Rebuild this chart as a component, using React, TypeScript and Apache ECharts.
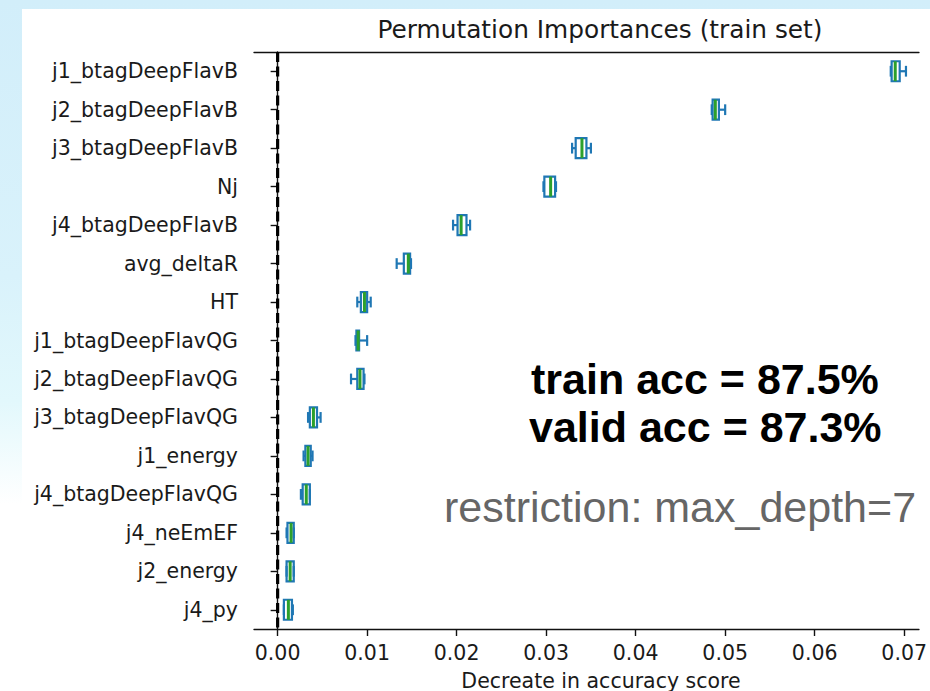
import React, { useEffect, useRef } from "react";
import * as echarts from "echarts";

const categories = [
  "j1_btagDeepFlavB",
  "j2_btagDeepFlavB",
  "j3_btagDeepFlavB",
  "Nj",
  "j4_btagDeepFlavB",
  "avg_deltaR",
  "HT",
  "j1_btagDeepFlavQG",
  "j2_btagDeepFlavQG",
  "j3_btagDeepFlavQG",
  "j1_energy",
  "j4_btagDeepFlavQG",
  "j4_neEmEF",
  "j2_energy",
  "j4_py",
];

const whiskerLow = [0.0685, 0.0485, 0.0329, 0.0297, 0.0196, 0.0133, 0.0089, 0.0087, 0.0082, 0.0034, 0.0029, 0.0026, 0.001, 0.001, 0.0007];
const q1 = [0.0686, 0.0486, 0.0333, 0.0298, 0.0201, 0.0141, 0.0093, 0.0088, 0.0089, 0.0036, 0.0031, 0.0028, 0.0011, 0.001, 0.0007];
const median = [0.069, 0.0489, 0.034, 0.0305, 0.0205, 0.0146, 0.0097, 0.009, 0.0092, 0.004, 0.0034, 0.0032, 0.0015, 0.0014, 0.0012];
const q3 = [0.0695, 0.0493, 0.0345, 0.031, 0.0211, 0.0148, 0.01, 0.0091, 0.0096, 0.0044, 0.0037, 0.0036, 0.0018, 0.0018, 0.0016];
const whiskerHigh = [0.0702, 0.05, 0.035, 0.0311, 0.0215, 0.0149, 0.0104, 0.01, 0.0097, 0.0048, 0.0039, 0.0036, 0.0018, 0.0018, 0.0017];

const xTicks = [0, 0.01, 0.02, 0.03, 0.04, 0.05, 0.06, 0.07];
const zeroLine = 0;

const titleText = "Permutation Importances (train set)";
const xAxisTitle = "Decreate in accuracy score";
const noteLines = ["train acc = 87.5%", "valid acc = 87.3%"];
const restrictionText = "restriction: max_depth=7";

const BLUE = "#1f77b4";
const GREEN = "#2ca02c";
const INK = "#1a1a1a";
const FONT = "DejaVu Sans";

export default function App() {
  const ref = useRef<HTMLDivElement>(null);

  useEffect(() => {
    if (!ref.current) return;
    const chart = echarts.init(ref.current, null, { renderer: "svg" });
    const data = categories.map((c, i) => [i, whiskerLow[i], q1[i], median[i], q3[i], whiskerHigh[i]]);
    const xMin = -0.00264;
    const xMax = 0.07165;

    chart.setOption({
      animation: false,
      grid: { left: 254, right: 0, top: 52, bottom: 62, containLabel: false },
      xAxis: [
        {
          type: "value",
          min: xMin,
          max: xMax,
          splitLine: { show: false },
          axisLine: { show: true, lineStyle: { color: "#111", width: 1.4 } },
          axisTick: { show: true, length: 7, lineStyle: { color: "#111", width: 1.4 }, customValues: xTicks },
          axisLabel: {
            customValues: xTicks,
            margin: 13,
            fontFamily: FONT,
            fontSize: 20.5,
            color: INK,
            formatter: (v: number) => v.toFixed(2),
          },
        },
        {
          type: "value",
          position: "top",
          min: xMin,
          max: xMax,
          splitLine: { show: false },
          axisLine: { show: true, onZero: false, lineStyle: { color: "#111", width: 1.4 } },
          axisTick: { show: false },
          axisLabel: { show: false },
        },
      ],
      yAxis: {
        type: "category",
        data: categories,
        inverse: true,
        axisLine: { show: true, lineStyle: { color: "#111", width: 1.4 } },
        axisTick: { show: true, alignWithLabel: true, length: 7, lineStyle: { color: "#111", width: 1.4 } },
        axisLabel: { margin: 16, fontFamily: FONT, fontSize: 20.5, color: INK },
        splitLine: { show: false },
      },
      series: [
        {
          type: "custom",
          name: "zeroDash",
          xAxisIndex: 0,
          yAxisIndex: 0,
          encode: { x: 0, y: 1 },
          data: [[zeroLine, 0]],
          clip: false,
          silent: true,
          z: 2,
          renderItem: (params: any, api: any) => {
            const p = api.coord([api.value(0), 0]);
            const cs = params.coordSys;
            const dash = 10;
            const gap = 4.5;
            const children: any[] = [];
            for (let y = cs.y; y < cs.y + cs.height; y += dash + gap) {
              const h = Math.min(dash, cs.y + cs.height - y);
              children.push({
                type: "rect",
                shape: { x: p[0] - 1.6, y, width: 3.2, height: h },
                style: { fill: "#000" },
              });
            }
            return { type: "group", children };
          },
        },
        {
          type: "custom",
          name: "boxes",
          xAxisIndex: 0,
          yAxisIndex: 0,
          encode: { x: [1, 2, 3, 4, 5], y: 0 },
          data,
          clip: false,
          z: 3,
          renderItem: (params: any, api: any) => {
            const cat = api.value(0);
            const pMin = api.coord([api.value(1), cat]);
            const pQ1 = api.coord([api.value(2), cat]);
            const pMed = api.coord([api.value(3), cat]);
            const pQ3 = api.coord([api.value(4), cat]);
            const pMax = api.coord([api.value(5), cat]);
            const band = api.size([0, 1])[1];
            const hb = band * 0.26;
            const hc = band * 0.14;
            const y = pQ1[1];
            const ls = { stroke: BLUE, lineWidth: 2.2, fill: "none" };
            return {
              type: "group",
              children: [
                { type: "line", shape: { x1: pMin[0], y1: y, x2: pQ1[0], y2: y }, style: ls },
                { type: "line", shape: { x1: pQ3[0], y1: y, x2: pMax[0], y2: y }, style: ls },
                { type: "line", shape: { x1: pMin[0], y1: y - hc, x2: pMin[0], y2: y + hc }, style: ls },
                { type: "line", shape: { x1: pMax[0], y1: y - hc, x2: pMax[0], y2: y + hc }, style: ls },
                {
                  type: "rect",
                  shape: { x: pQ1[0], y: y - hb, width: Math.max(pQ3[0] - pQ1[0], 0.5), height: hb * 2 },
                  style: ls,
                },
                {
                  type: "line",
                  shape: { x1: pMed[0], y1: y - hb, x2: pMed[0], y2: y + hb },
                  style: { stroke: GREEN, lineWidth: 3 },
                },
              ],
            };
          },
        },
      ],
      graphic: [
        {
          type: "text",
          x: 600,
          y: 29.5,
          style: {
            text: titleText,
            fontFamily: FONT,
            fontSize: 24.8,
            fill: INK,
            textAlign: "center",
            textVerticalAlign: "middle",
          },
        },
        {
          type: "text",
          x: 601,
          y: 680.5,
          style: {
            text: xAxisTitle,
            fontFamily: FONT,
            fontSize: 20.5,
            fill: INK,
            textAlign: "center",
            textVerticalAlign: "middle",
          },
        },
        {
          type: "text",
          x: 531,
          y: 379,
          z: 10,
          style: {
            text: noteLines[0],
            fontFamily: "Liberation Sans",
            fontWeight: "bold",
            fontSize: 43,
            fill: "#000",
            textAlign: "left",
            textVerticalAlign: "middle",
          },
        },
        {
          type: "text",
          x: 529,
          y: 427,
          z: 10,
          style: {
            text: noteLines[1],
            fontFamily: "Liberation Sans",
            fontWeight: "bold",
            fontSize: 43,
            fill: "#000",
            textAlign: "left",
            textVerticalAlign: "middle",
          },
        },
        {
          type: "text",
          x: 444,
          y: 507,
          z: 10,
          style: {
            text: restrictionText,
            fontFamily: "Liberation Sans",
            fontSize: 43,
            fill: "#666666",
            textAlign: "left",
            textVerticalAlign: "middle",
          },
        },
      ],
    });
    return () => chart.dispose();
  }, []);

  return (
    <div
      style={{
        position: "fixed",
        left: 0,
        top: 0,
        width: 930,
        height: 691,
        overflow: "hidden",
        background: "linear-gradient(to bottom, #d2eefa 0%, #d9f2fb 40%, #e2f8fc 58%, #ffffff 73%)",
      }}
    >
      <div style={{ position: "absolute", left: 22, top: 9, right: 0, bottom: 0, background: "#ffffff" }} />
      <div ref={ref} style={{ position: "absolute", left: 0, top: 0, width: 930, height: 691 }} />
    </div>
  );
}
